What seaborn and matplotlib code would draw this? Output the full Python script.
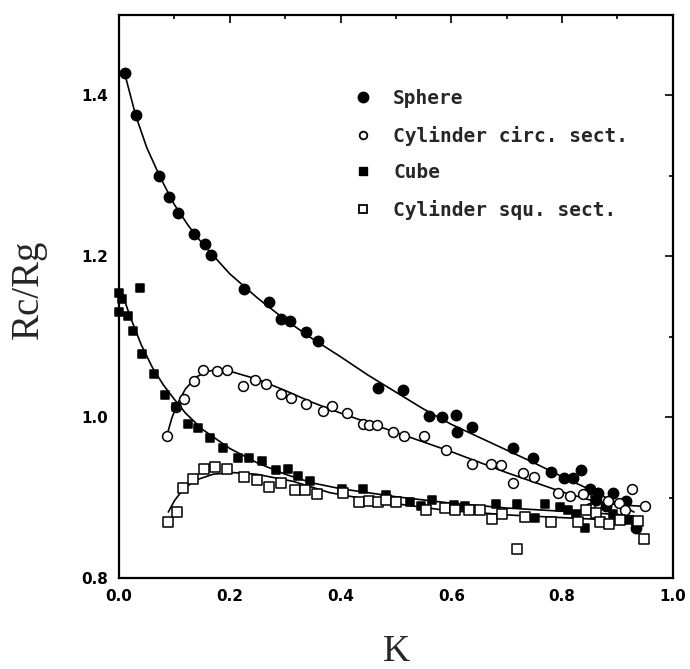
import numpy as np
import pandas as pd
import matplotlib
matplotlib.use("Agg")
import matplotlib.pyplot as plt
import seaborn as sns
from matplotlib.ticker import MultipleLocator
from matplotlib.lines import Line2D

# ---- measured points -------------------------------------------------------
sphere_k = [0.011, 0.030, 0.073, 0.090, 0.106, 0.136, 0.156, 0.167, 0.225, 0.270,
            0.292, 0.309, 0.337, 0.360, 0.468, 0.512, 0.560, 0.584, 0.608, 0.611,
            0.637, 0.711, 0.748, 0.781, 0.804, 0.820, 0.834, 0.851, 0.865, 0.861,
            0.892, 0.916, 0.880, 0.934]
sphere_r = [1.427, 1.376, 1.299, 1.273, 1.254, 1.228, 1.215, 1.202, 1.159, 1.143,
            1.122, 1.120, 1.106, 1.094, 1.036, 1.034, 1.001, 1.000, 1.002, 0.982,
            0.988, 0.961, 0.949, 0.932, 0.924, 0.924, 0.934, 0.910, 0.906, 0.897,
            0.906, 0.896, 0.890, 0.862]

circ_k = [0.086, 0.103, 0.117, 0.136, 0.151, 0.177, 0.195, 0.223, 0.245, 0.265,
          0.292, 0.310, 0.338, 0.368, 0.384, 0.411, 0.440, 0.452, 0.465, 0.495,
          0.515, 0.551, 0.591, 0.638, 0.671, 0.689, 0.711, 0.729, 0.749, 0.793,
          0.815, 0.838, 0.850, 0.883, 0.903, 0.913, 0.927, 0.949]
circ_r = [0.976, 1.012, 1.023, 1.045, 1.058, 1.057, 1.058, 1.039, 1.046, 1.041,
          1.029, 1.024, 1.016, 1.007, 1.014, 1.005, 0.991, 0.990, 0.990, 0.982,
          0.976, 0.976, 0.959, 0.942, 0.942, 0.940, 0.918, 0.931, 0.926, 0.906,
          0.902, 0.905, 0.887, 0.896, 0.893, 0.884, 0.910, 0.889]

cube_k = [0.000, 0.005, 0.000, 0.016, 0.026, 0.038, 0.042, 0.063, 0.083, 0.102,
          0.124, 0.142, 0.164, 0.188, 0.215, 0.235, 0.259, 0.283, 0.306, 0.324,
          0.344, 0.402, 0.440, 0.483, 0.525, 0.546, 0.566, 0.605, 0.625, 0.681,
          0.719, 0.751, 0.769, 0.796, 0.811, 0.826, 0.842, 0.859, 0.892, 0.919,
          0.934]
cube_r = [1.154, 1.147, 1.130, 1.125, 1.107, 1.160, 1.078, 1.053, 1.028, 1.012,
          0.991, 0.986, 0.974, 0.961, 0.949, 0.949, 0.946, 0.934, 0.935, 0.927,
          0.920, 0.911, 0.911, 0.903, 0.895, 0.889, 0.897, 0.891, 0.889, 0.892,
          0.892, 0.874, 0.892, 0.888, 0.885, 0.880, 0.862, 0.897, 0.880, 0.872,
          0.864]

squ_k = [0.088, 0.104, 0.116, 0.133, 0.153, 0.173, 0.195, 0.226, 0.250, 0.271,
         0.292, 0.318, 0.335, 0.358, 0.404, 0.434, 0.452, 0.468, 0.483, 0.501,
         0.555, 0.588, 0.606, 0.632, 0.652, 0.673, 0.691, 0.719, 0.733, 0.780,
         0.829, 0.844, 0.861, 0.869, 0.885, 0.904, 0.937, 0.948]
squ_r = [0.869, 0.882, 0.912, 0.923, 0.935, 0.938, 0.935, 0.926, 0.922, 0.913,
         0.918, 0.909, 0.909, 0.905, 0.906, 0.894, 0.896, 0.894, 0.897, 0.894,
         0.885, 0.887, 0.885, 0.885, 0.885, 0.873, 0.880, 0.836, 0.876, 0.869,
         0.869, 0.884, 0.881, 0.869, 0.867, 0.872, 0.871, 0.849]

# ---- fitted curves ---------------------------------------------------------
sphere_fit_k = [0.011, 0.030, 0.050, 0.075, 0.100, 0.125, 0.150, 0.200, 0.250, 0.300,
                0.350, 0.400, 0.450, 0.500, 0.550, 0.600, 0.650, 0.700, 0.750, 0.800,
                0.850, 0.900, 0.930]
sphere_fit_r = [1.425, 1.375, 1.335, 1.297, 1.264, 1.238, 1.216, 1.178, 1.148, 1.121,
                1.097, 1.075, 1.052, 1.031, 1.010, 0.991, 0.975, 0.959, 0.943, 0.926,
                0.910, 0.893, 0.882]

circ_fit_k = [0.086, 0.095, 0.105, 0.120, 0.140, 0.160, 0.180, 0.200, 0.250, 0.300,
              0.350, 0.400, 0.450, 0.500, 0.550, 0.600, 0.650, 0.700, 0.750, 0.800,
              0.850, 0.900, 0.950]
circ_fit_r = [0.976, 0.998, 1.016, 1.035, 1.050, 1.057, 1.059, 1.057, 1.047, 1.033,
              1.018, 1.005, 0.993, 0.981, 0.969, 0.957, 0.944, 0.931, 0.919, 0.907,
              0.897, 0.891, 0.889]

cube_fit_k = [0.005, 0.020, 0.040, 0.060, 0.080, 0.100, 0.120, 0.150, 0.200, 0.250,
              0.300, 0.350, 0.400, 0.450, 0.500, 0.600, 0.700, 0.800, 0.900, 0.930]
cube_fit_r = [1.155, 1.125, 1.090, 1.062, 1.040, 1.022, 1.005, 0.985, 0.961, 0.943,
              0.929, 0.918, 0.911, 0.906, 0.901, 0.893, 0.887, 0.883, 0.879, 0.877]

squ_fit_k = [0.089, 0.100, 0.110, 0.125, 0.140, 0.170, 0.206, 0.248, 0.315, 0.381,
             0.471, 0.591, 0.712, 0.832, 0.892, 0.934]
squ_fit_r = [0.882, 0.896, 0.905, 0.915, 0.922, 0.929, 0.931, 0.929, 0.920, 0.906,
             0.895, 0.884, 0.878, 0.874, 0.872, 0.870]

labels = ["Sphere", "Cylinder circ. sect.", "Cube", "Cylinder squ. sect."]
x_ticks = [0.0, 0.2, 0.4, 0.6, 0.8, 1.0]
y_ticks = [0.8, 1.0, 1.2, 1.4]

points = pd.concat([
    pd.DataFrame({"K": sphere_k, "R": sphere_r, "shape": labels[0]}),
    pd.DataFrame({"K": circ_k, "R": circ_r, "shape": labels[1]}),
    pd.DataFrame({"K": cube_k, "R": cube_r, "shape": labels[2]}),
    pd.DataFrame({"K": squ_k, "R": squ_r, "shape": labels[3]}),
], ignore_index=True)

fits = pd.concat([
    pd.DataFrame({"K": sphere_fit_k, "R": sphere_fit_r, "shape": labels[0]}),
    pd.DataFrame({"K": circ_fit_k, "R": circ_fit_r, "shape": labels[1]}),
    pd.DataFrame({"K": cube_fit_k, "R": cube_fit_r, "shape": labels[2]}),
    pd.DataFrame({"K": squ_fit_k, "R": squ_fit_r, "shape": labels[3]}),
], ignore_index=True)

sns.set_style("white")
plt.rcParams["font.family"] = ["DejaVu Sans"]

fig = plt.figure(figsize=(6.9, 6.69), dpi=100)
ax = fig.add_axes([0.1725, 0.136, 0.8025, 0.842])

# fitted curves
for name in labels:
    sns.lineplot(data=fits[fits["shape"] == name], x="K", y="R", sort=False,
                 estimator=None, color="black", linewidth=1.2, ax=ax, legend=False)

# measured points
styles = {
    labels[0]: dict(marker="o", facecolor="black", s=55),
    labels[1]: dict(marker="o", facecolor="white", s=50),
    labels[2]: dict(marker="s", facecolor="black", s=38),
    labels[3]: dict(marker="s", facecolor="white", s=45),
}
for name in labels:
    st = styles[name]
    sns.scatterplot(data=points[points["shape"] == name], x="K", y="R",
                    marker=st["marker"], s=st["s"], color=st["facecolor"],
                    edgecolor="black", linewidth=1.1, ax=ax, legend=False,
                    zorder=3, clip_on=False)

ax.set_xlim(0.0, 1.0)
ax.set_ylim(0.8, 1.5)
ax.set_xticks(x_ticks)
ax.set_yticks(y_ticks)
ax.xaxis.set_minor_locator(MultipleLocator(0.1))
ax.yaxis.set_minor_locator(MultipleLocator(0.1))
ax.set_xticklabels([f"{v:.1f}" for v in x_ticks])
ax.set_yticklabels([f"{v:.1f}" for v in y_ticks])
ax.tick_params(which="both", direction="in", top=True, right=True,
               width=1.2, colors="black")
ax.tick_params(which="major", length=5.5, labelsize=11, pad=8)
ax.tick_params(which="minor", length=3)
for lab in ax.get_xticklabels() + ax.get_yticklabels():
    lab.set_fontweight("bold")
for sp in ax.spines.values():
    sp.set_linewidth(1.6)
    sp.set_color("black")

ax.set_xlabel("")
ax.set_ylabel("")
fig.text(0.574, 0.0, "K", family="Liberation Serif", fontsize=27,
         ha="center", va="bottom")
fig.text(0.041, 0.567, "Rc/Rg", family="Liberation Serif", fontsize=28,
         ha="center", va="center", rotation=90)

handles = [
    Line2D([], [], linestyle="none", marker="o", markersize=7.5,
           markerfacecolor="black", markeredgecolor="black"),
    Line2D([], [], linestyle="none", marker="o", markersize=5.5,
           markerfacecolor="white", markeredgecolor="black", markeredgewidth=1.3),
    Line2D([], [], linestyle="none", marker="s", markersize=5.5,
           markerfacecolor="black", markeredgecolor="black"),
    Line2D([], [], linestyle="none", marker="s", markersize=5.5,
           markerfacecolor="white", markeredgecolor="black", markeredgewidth=1.3),
]
ax.legend(handles, labels, loc="upper left", bbox_to_anchor=(0.423, 0.868),
          frameon=False, handletextpad=1.05, labelspacing=0.9,
          prop={"family": "DejaVu Sans Mono", "size": 14, "weight": "bold"},
          handlelength=1.0, borderaxespad=0.0, borderpad=0.0)

fig.savefig("out.png", dpi=100)
